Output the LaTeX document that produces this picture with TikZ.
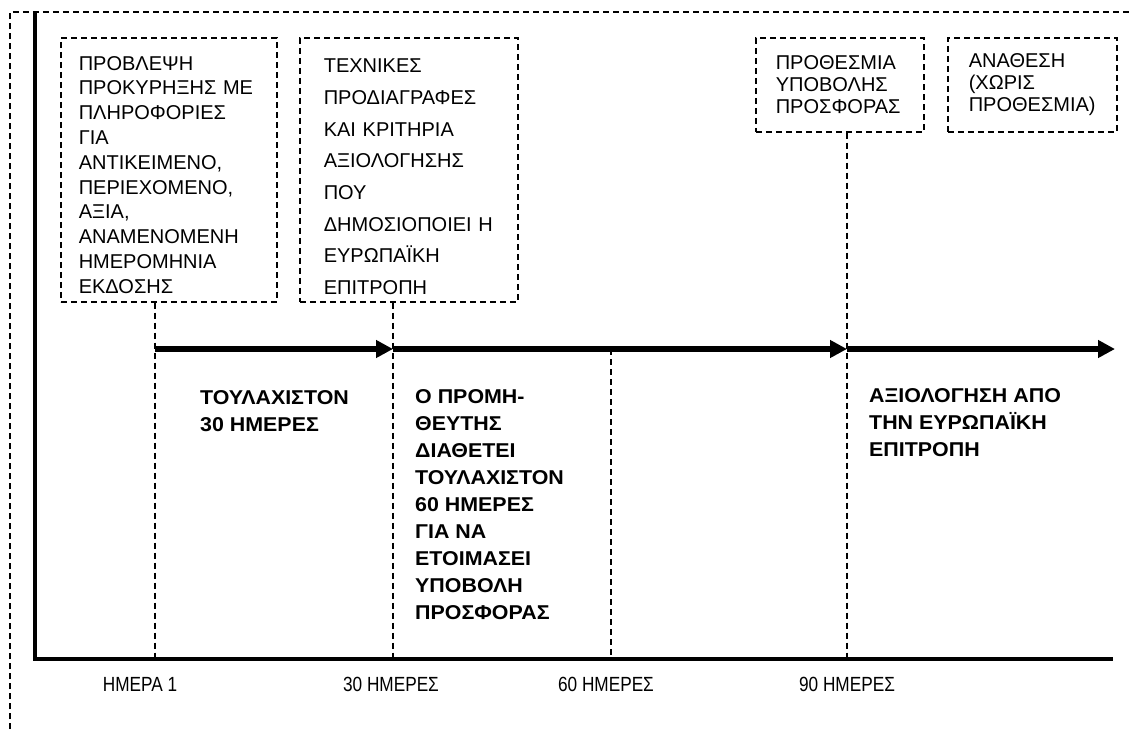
\documentclass[tikz,border=0pt]{standalone}
\usepackage{fontspec}
\setmainfont{Liberation Sans}
\newfontfamily\phasefont[FakeStretch=1.07]{Liberation Sans}
\newfontfamily\labelfont[FakeStretch=0.84]{Liberation Sans}
\usetikzlibrary{arrows.meta}

\tikzset{
  dashline/.style={line width=1.6pt, dash pattern=on 6pt off 4pt},
  notebox/.style={dashline, draw, anchor=north west, align=left, inner ysep=0pt,
    font=\fontsize{20}{24.8}\selectfont},
  phasetext/.style={anchor=north west, align=left, inner sep=0pt,
    font=\phasefont\bfseries\fontsize{20}{27}\selectfont},
  daylabel/.style={inner sep=0pt, font=\labelfont\fontsize{20.5}{24}\selectfont},
  timearrow/.style={line width=6pt, -{Triangle[length=17pt,width=17pt]}}
}

\begin{document}
\begin{tikzpicture}[x=1pt,y=-1pt]
\useasboundingbox (0,0) rectangle (1133,729);
\draw[dashline] (10,729) -- (10,12) -- (1133,12); % outer frame
\draw[line width=4.5pt] (35,12) -- (35,659) -- (1113,659); % axes

\coordinate (d1) at (155,659);
\coordinate (d30) at (393,659);
\coordinate (d60) at (611,659);
\coordinate (d90) at (847,659);
\coordinate (a1) at (155,349);
\coordinate (a30) at (393,349);
\coordinate (a60) at (611,349);
\coordinate (a90) at (847,349);
\coordinate (aend) at (1115,349);

% boxes on top
\node[notebox, minimum width=216pt, minimum height=264pt, inner xsep=18pt, text width=180pt, text height=24pt] (forecast) at (60,37)
  {ΠΡΟΒΛΕΨΗ\\ ΠΡΟΚΥΡΗΞΗΣ~ΜΕ\\ ΠΛΗΡΟΦΟΡΙΕΣ\\ ΓΙΑ\\ ΑΝΤΙΚΕΙΜΕΝΟ,\\ ΠΕΡΙΕΧΟΜΕΝΟ,\\ ΑΞΙΑ,\\ ΑΝΑΜΕΝΟΜΕΝΗ\\ ΗΜΕΡΟΜΗΝΙΑ\\ ΕΚΔΟΣΗΣ};
\node[notebox, minimum width=218pt, minimum height=264pt, inner xsep=24pt, text width=170pt, text height=28pt,
  font=\fontsize{20}{31.7}\selectfont] (specs) at (299,37)
  {ΤΕΧΝΙΚΕΣ\\ ΠΡΟΔΙΑΓΡΑΦΕΣ\\ ΚΑΙ~ΚΡΙΤΗΡΙΑ\\ ΑΞΙΟΛΟΓΗΣΗΣ\\ ΠΟΥ\\ ΔΗΜΟΣΙΟΠΟΙΕΙ~Η\\ ΕΥΡΩΠΑΪΚΗ\\ ΕΠΙΤΡΟΠΗ};
\node[notebox, minimum width=168pt, minimum height=94pt, inner xsep=20pt, text width=128pt,
  font=\fontsize{20}{22}\selectfont] (deadline) at (755,37)
  {ΠΡΟΘΕΣΜΙΑ\\ ΥΠΟΒΟΛΗΣ\\ ΠΡΟΣΦΟΡΑΣ};
\node[notebox, minimum width=169pt, minimum height=94pt, inner xsep=21pt, text width=127pt,
  font=\fontsize{20}{22}\selectfont] (award) at (947,37)
  {ΑΝΑΘΕΣΗ\\ (ΧΩΡΙΣ\\ ΠΡΟΘΕΣΜΙΑ)};

% dashed day lines
\draw[dashline] (forecast.south -| d1) -- (d1);
\draw[dashline] (specs.south -| d30) -- (d30);
\draw[dashline] (a60) -- (d60);
\draw[dashline] (deadline.south -| d90) -- (d90);

% time arrows
\draw[timearrow] (a1) -- (a30);
\draw[timearrow] (a30) -- (a90);
\draw[timearrow] (a90) -- (aend);

\node[phasetext] (first) at (200,390) {ΤΟΥΛΑΧΙΣΤΟΝ\\ 30 ΗΜΕΡΕΣ};
\node[phasetext] (prepare) at (415,389)
  {Ο ΠΡΟΜΗ-\\ ΘΕΥΤΗΣ\\ ΔΙΑΘΕΤΕΙ\\ ΤΟΥΛΑΧΙΣΤΟΝ\\ 60 ΗΜΕΡΕΣ\\ ΓΙΑ ΝΑ\\ ΕΤΟΙΜΑΣΕΙ\\ ΥΠΟΒΟΛΗ\\ ΠΡΟΣΦΟΡΑΣ};
\node[phasetext] (evaluate) at (869,388) {ΑΞΙΟΛΟΓΗΣΗ ΑΠΟ\\ ΤΗΝ ΕΥΡΩΠΑΪΚΗ\\ ΕΠΙΤΡΟΠΗ};

\foreach \x/\name/\txt in {140/l1/ΗΜΕΡΑ 1, 391/l30/30 ΗΜΕΡΕΣ, 606/l60/60 ΗΜΕΡΕΣ, 847/l90/90 ΗΜΕΡΕΣ}
  \node[daylabel] (\name) at (\x,684) {\txt}; % day labels
\end{tikzpicture}
\end{document}
